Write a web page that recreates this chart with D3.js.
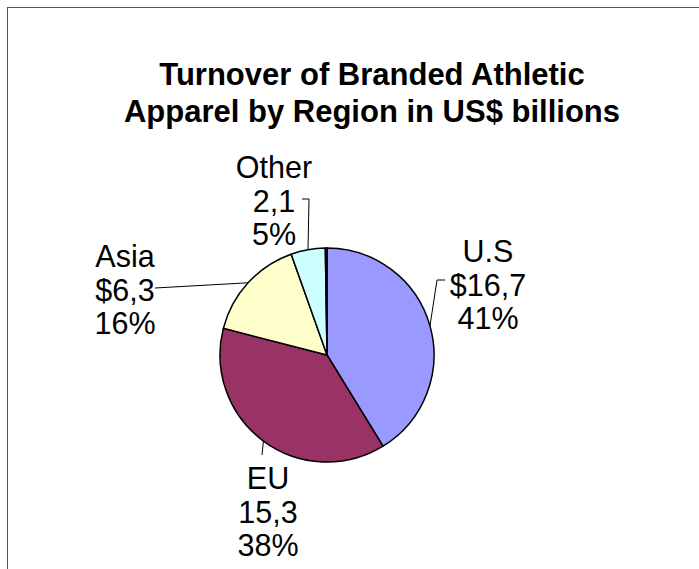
<!DOCTYPE html>
<html>
<head>
<meta charset="utf-8">
<script src="https://cdn.jsdelivr.net/npm/d3@7"></script>
<style>
  body { margin: 0; background: #fff; }
  text { font-family: "Liberation Sans", Arial, sans-serif; fill: #000; }
</style>
</head>
<body>
<svg id="chart"></svg>
<script>
'use strict';

var WIDTH = 699;
var HEIGHT = 569;

// data
var categories = ["U.S", "EU", "Asia", "Other", ""];
var values = [16.7, 15.3, 6.3, 2.1, 0.1];
var valueLabels = ["$16,7", "15,3", "$6,3", "2,1", ""];
var titleLines = ["Turnover of Branded Athletic", "Apparel by Region in US$ billions"];

var colors = ["#9999ff", "#993366", "#ffffcc", "#ccffff", "#660066"];

var CX = 327, CY = 355, R = 107;
var LINE_H = 33.5;

// label block: centre x and first baseline, relative to pie centre
var labelAt = [[161, -93], [-59, 134], [-202, -88], [-53, -177], null];
// leader end points relative to pie centre (start is the slice edge)
var leaderTo = [
  [[110, -75], [118, -75]],
  [[-65, 100]],
  [[-172, -67]],
  [[-18, -156], [-25, -156]],
  null
];

var svg = d3.select("#chart").attr("width", WIDTH).attr("height", HEIGHT);

svg.append("rect")
.attr("x", 7.5).attr("y", 7.5)
.attr("width", WIDTH).attr("height", HEIGHT)
.attr("fill", "none").attr("stroke", "#555").attr("stroke-width", 1);

svg.selectAll("text.title")
.data(titleLines)
.enter().append("text")
.attr("class", "title")
.attr("x", 372)
.attr("y", function(d, i){ return 85 + i*37; })
.attr("text-anchor", "middle")
.attr("font-size", 31)
.attr("font-weight", "bold")
.text(function(d){ return d; });

var total = d3.sum(values);
var pie = d3.pie().sort(null).value(function(d){ return d; });
var arcs = pie(values);

var arc = d3.arc().innerRadius(0).outerRadius(R);
var edge = d3.arc().innerRadius(R).outerRadius(R);

var g = svg.append("g").attr("transform", "translate(" + CX + "," + CY + ")");

g.selectAll("path.slice")
.data(arcs)
.enter().append("path")
.attr("class", "slice")
.attr("d", arc)
.attr("fill", function(d, i){ return colors[i]; })
.attr("stroke", "#000")
.attr("stroke-width", 1.5)
.attr("stroke-linejoin", "round");

arcs.forEach(function(a, i){
  if (!labelAt[i]) return;
  var start = edge.centroid(a);
  var pts = [start].concat(leaderTo[i]);
  g.append("path")
  .attr("d", d3.line()(pts))
  .attr("fill", "none")
  .attr("stroke", "#000")
  .attr("stroke-width", 1);

  var lines = [categories[i], valueLabels[i], Math.round(values[i] / total * 100) + "%"];
  g.append("text")
  .attr("text-anchor", "middle")
  .attr("font-size", 30.5)
  .selectAll("tspan")
  .data(lines)
  .enter().append("tspan")
  .attr("x", labelAt[i][0])
  .attr("y", function(d, k){ return labelAt[i][1] + k*LINE_H; })
  .text(function(d){ return d; });
});
</script>
</body>
</html>
